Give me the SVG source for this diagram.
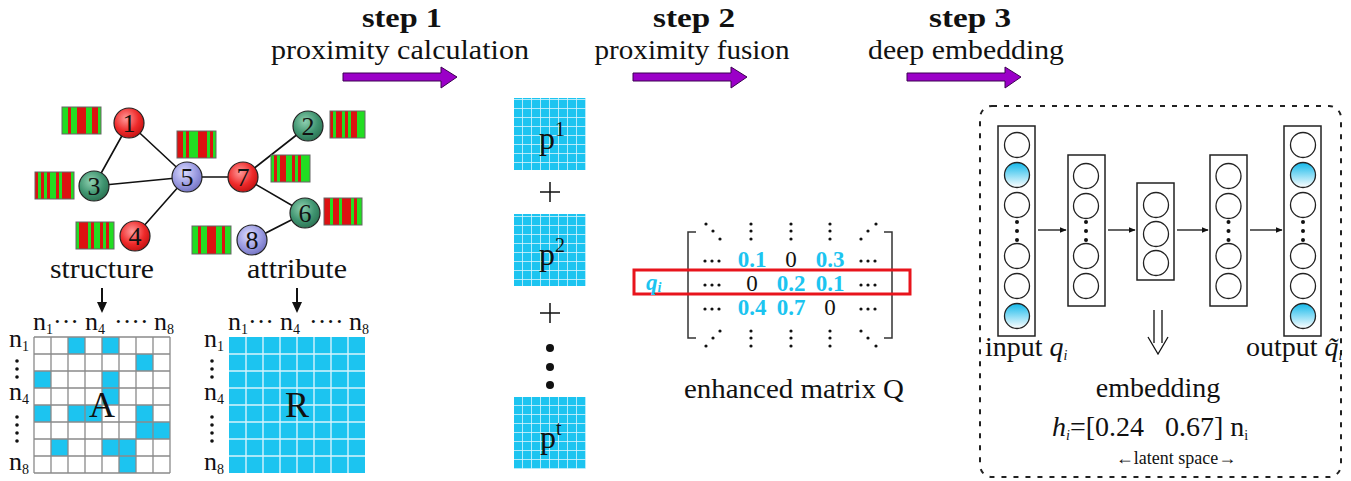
<svg xmlns="http://www.w3.org/2000/svg" width="1351" height="481" viewBox="0 0 1351 481">
<style>
text{font-family:"Liberation Serif","Times New Roman",serif;fill:#111}
.st{font-size:28px;font-weight:bold}
.sub{font-size:27px}
.big{font-size:28px}
.nn{font-size:26px}
.num{font-size:26px}
.bv{font-size:23px;font-weight:bold;fill:#1cc4f0}
.bk{font-size:23px}
.edge{stroke:#111;stroke-width:1.6;fill:none}
.bar{fill:#22dd22}
.red{fill:#dd1111}
.bd{fill:none;stroke:#666;stroke-width:1}
.step{fill:#9b00c8;stroke:#3c0052;stroke-width:1}
.lay{fill:#fff;stroke:#222;stroke-width:1.5}
.neu{fill:#fff;stroke:#222;stroke-width:1.3}
.neub{fill:url(#gb);stroke:#222;stroke-width:1.3}
.ar{stroke:#111;stroke-width:1.3;fill:none}
.dot{fill:#111}
</style>
<defs>
<radialGradient id="gr" cx="0.4" cy="0.35" r="0.7"><stop offset="0" stop-color="#ff9a9a"/><stop offset="0.6" stop-color="#ee2a2a"/><stop offset="1" stop-color="#c01010"/></radialGradient>
<radialGradient id="gg" cx="0.4" cy="0.35" r="0.7"><stop offset="0" stop-color="#8fd0b0"/><stop offset="0.6" stop-color="#3f9470"/><stop offset="1" stop-color="#2a7050"/></radialGradient>
<radialGradient id="gp" cx="0.4" cy="0.35" r="0.7"><stop offset="0" stop-color="#dcdcff"/><stop offset="0.6" stop-color="#9a9ae0"/><stop offset="1" stop-color="#7070c0"/></radialGradient>
<linearGradient id="gb" x1="0" y1="0" x2="0" y2="1"><stop offset="0" stop-color="#12b8ea"/><stop offset="1" stop-color="#ffffff"/></linearGradient>
<marker id="ah" viewBox="0 0 10 10" refX="9" refY="5" markerWidth="7" markerHeight="7" orient="auto" markerUnits="userSpaceOnUse"><path d="M0,1 L10,5 L0,9 z" fill="#111"/></marker>
<pattern id="pg" x="0" y="0" width="9" height="9" patternUnits="userSpaceOnUse"><rect width="9" height="9" fill="#1cc4f0"/><path d="M0,0.4 H9 M0.4,0 V9" stroke="#d6f3fc" stroke-width="0.9"/></pattern>
</defs>

<!-- header -->
<g id="step1">
<text class="st" x="402" y="27" text-anchor="middle" textLength="80" lengthAdjust="spacingAndGlyphs">step 1</text>
<text class="sub" x="400" y="59" text-anchor="middle" textLength="258" lengthAdjust="spacingAndGlyphs">proximity calculation</text>
<path class="step" d="M343,73 H441 V67 L457,77 L441,88 V81 H343 Z"/>
</g>
<g id="step2">
<text class="st" x="694" y="27" text-anchor="middle" textLength="82" lengthAdjust="spacingAndGlyphs">step 2</text>
<text class="sub" x="692" y="59" text-anchor="middle" textLength="195" lengthAdjust="spacingAndGlyphs">proximity fusion</text>
<path class="step" d="M633,73 H731 V67 L747,77 L731,88 V81 H633 Z"/>
</g>
<g id="step3">
<text class="st" x="970" y="27" text-anchor="middle" textLength="82" lengthAdjust="spacingAndGlyphs">step 3</text>
<text class="sub" x="966" y="59" text-anchor="middle" textLength="196" lengthAdjust="spacingAndGlyphs">deep embedding</text>
<path class="step" d="M907,73 H1005 V67 L1021,77 L1005,88 V81 H907 Z"/>
</g>

<!-- connectors -->
<g id="connectors">
<path class="edge" d="M129,123 L94,186 M129,123 L187,177 M94,186 L187,177 M187,177 L135,236 M187,177 L243,177 M243,177 L308,126 M243,177 L305,213 M305,213 L252,240"/>
<line class="ar" x1="1038" y1="230" x2="1066" y2="230" marker-end="url(#ah)"/>
<line class="ar" x1="1108" y1="230" x2="1135" y2="230" marker-end="url(#ah)"/>
<line class="ar" x1="1177" y1="230" x2="1208" y2="230" marker-end="url(#ah)"/>
<line class="ar" x1="1250" y1="230" x2="1282" y2="230" marker-end="url(#ah)"/>
<path d="M102,288 V306" stroke="#111" stroke-width="2"/><path d="M97,302 L102,313 L107,302 Z" fill="#111"/>
<path d="M297,288 V306" stroke="#111" stroke-width="2"/><path d="M292,302 L297,313 L302,302 Z" fill="#111"/>
</g>

<!-- barcodes -->
<g id="bars">
<g transform="translate(62,107)"><rect class="bar" width="39" height="27"/><rect class="red" x="6" width="3" height="27"/><rect class="red" x="15" width="9" height="27"/><rect class="red" x="30" width="6" height="27"/><rect class="bd" width="39" height="27"/></g>
<g transform="translate(330,111)"><rect class="bar" width="35" height="27"/><rect class="red" x="0" width="3" height="27"/><rect class="red" x="6" width="6" height="27"/><rect class="red" x="15" width="3" height="27"/><rect class="red" x="21" width="6" height="27"/><rect class="bd" width="35" height="27"/></g>
<g transform="translate(177,131)"><rect class="bar" width="39" height="27"/><rect class="red" x="0" width="6" height="27"/><rect class="red" x="9" width="3" height="27"/><rect class="red" x="21" width="9" height="27"/><rect class="red" x="33" width="3" height="27"/><rect class="bd" width="39" height="27"/></g>
<g transform="translate(35,172)"><rect class="bar" width="39" height="27"/><rect class="red" x="0" width="3" height="27"/><rect class="red" x="6" width="3" height="27"/><rect class="red" x="12" width="3" height="27"/><rect class="red" x="21" width="3" height="27"/><rect class="red" x="27" width="9" height="27"/><rect class="bd" width="39" height="27"/></g>
<g transform="translate(271,155)"><rect class="bar" width="39" height="27"/><rect class="red" x="3" width="3" height="27"/><rect class="red" x="9" width="6" height="27"/><rect class="red" x="21" width="3" height="27"/><rect class="red" x="27" width="3" height="27"/><rect class="bd" width="39" height="27"/></g>
<g transform="translate(324,198)"><rect class="bar" width="38" height="27"/><rect class="red" x="0" width="6" height="27"/><rect class="red" x="9" width="6" height="27"/><rect class="red" x="18" width="9" height="27"/><rect class="red" x="30" width="3" height="27"/><rect class="bd" width="38" height="27"/></g>
<g transform="translate(76,222)"><rect class="bar" width="38" height="27"/><rect class="red" x="3" width="9" height="27"/><rect class="red" x="15" width="3" height="27"/><rect class="red" x="24" width="3" height="27"/><rect class="red" x="30" width="3" height="27"/><rect class="bd" width="38" height="27"/></g>
<g transform="translate(192,226)"><rect class="bar" width="39" height="28"/><rect class="red" x="6" width="3" height="28"/><rect class="red" x="15" width="9" height="28"/><rect class="red" x="30" width="3" height="28"/><rect class="bd" width="39" height="28"/></g>
</g>

<!-- nodes -->
<g id="node1"><circle cx="129" cy="123" r="15" fill="url(#gr)" stroke="#222" stroke-width="1.2"/><text class="num" x="129" y="132" text-anchor="middle">1</text></g>
<g id="node2"><circle cx="308" cy="126" r="15" fill="url(#gg)" stroke="#222" stroke-width="1.2"/><text class="num" x="308" y="135" text-anchor="middle">2</text></g>
<g id="node3"><circle cx="94" cy="186" r="15" fill="url(#gg)" stroke="#222" stroke-width="1.2"/><text class="num" x="94" y="195" text-anchor="middle">3</text></g>
<g id="node4"><circle cx="135" cy="236" r="15" fill="url(#gr)" stroke="#222" stroke-width="1.2"/><text class="num" x="135" y="245" text-anchor="middle">4</text></g>
<g id="node5"><circle cx="187" cy="177" r="15" fill="url(#gp)" stroke="#222" stroke-width="1.2"/><text class="num" x="187" y="186" text-anchor="middle">5</text></g>
<g id="node6"><circle cx="305" cy="213" r="15" fill="url(#gg)" stroke="#222" stroke-width="1.2"/><text class="num" x="305" y="222" text-anchor="middle">6</text></g>
<g id="node7"><circle cx="243" cy="177" r="15" fill="url(#gr)" stroke="#222" stroke-width="1.2"/><text class="num" x="243" y="186" text-anchor="middle">7</text></g>
<g id="node8"><circle cx="252" cy="240" r="15" fill="url(#gp)" stroke="#222" stroke-width="1.2"/><text class="num" x="252" y="249" text-anchor="middle">8</text></g>

<!-- structure matrix A -->
<g id="matrixA">
<text class="big" x="102" y="278" text-anchor="middle" textLength="104" lengthAdjust="spacingAndGlyphs">structure</text>
<rect x="34" y="337" width="136" height="136" fill="#fff"/>
<g fill="#1cc4f0">
<rect x="68" y="337" width="17" height="17"/><rect x="102" y="337" width="17" height="17"/>
<rect x="136" y="354" width="17" height="17"/>
<rect x="34" y="371" width="17" height="17"/><rect x="102" y="371" width="17" height="17"/>
<rect x="102" y="388" width="17" height="17"/>
<rect x="34" y="405" width="17" height="17"/><rect x="68" y="405" width="17" height="17"/><rect x="85" y="405" width="17" height="17"/><rect x="136" y="405" width="17" height="17"/>
<rect x="136" y="422" width="17" height="17"/><rect x="153" y="422" width="17" height="17"/>
<rect x="51" y="439" width="17" height="17"/><rect x="102" y="439" width="17" height="17"/><rect x="119" y="439" width="17" height="17"/>
<rect x="119" y="456" width="17" height="17"/>
</g>
<path d="M34,337 V473 M51,337 V473 M68,337 V473 M85,337 V473 M102,337 V473 M119,337 V473 M136,337 V473 M153,337 V473 M170,337 V473 M34,337 H170 M34,354 H170 M34,371 H170 M34,388 H170 M34,405 H170 M34,422 H170 M34,439 H170 M34,456 H170 M34,473 H170" stroke="#8a8a8a" stroke-width="1.3" fill="none"/>
<text x="102" y="417" text-anchor="middle" style="font-size:36px">A</text>
<text class="nn" x="33" y="330">n<tspan font-size="14" dy="4">1</tspan><tspan dy="-4">···</tspan></text>
<text class="nn" x="85" y="330">n<tspan font-size="14" dy="4">4</tspan></text>
<text class="nn" x="114" y="330">····</text>
<text class="nn" x="154" y="330">n<tspan font-size="14" dy="4">8</tspan></text>
<text class="nn" x="9" y="347">n<tspan font-size="14" dy="4">1</tspan></text>
<text class="nn" x="9" y="400">n<tspan font-size="14" dy="4">4</tspan></text>
<text class="nn" x="9" y="470">n<tspan font-size="14" dy="4">8</tspan></text>
<g class="dot"><circle cx="17" cy="361" r="1.8"/><circle cx="17" cy="369" r="1.8"/><circle cx="17" cy="377" r="1.8"/><circle cx="17" cy="417" r="1.8"/><circle cx="17" cy="425" r="1.8"/><circle cx="17" cy="433" r="1.8"/><circle cx="17" cy="441" r="1.8"/></g>
</g>

<!-- attribute matrix R -->
<g id="matrixR">
<text class="big" x="297" y="278" text-anchor="middle" textLength="100" lengthAdjust="spacingAndGlyphs">attribute</text>
<rect x="229" y="337" width="136" height="136" fill="#1cc4f0"/>
<path d="M246,337 V473 M263,337 V473 M280,337 V473 M297,337 V473 M314,337 V473 M331,337 V473 M348,337 V473 M229,354 H365 M229,371 H365 M229,388 H365 M229,405 H365 M229,422 H365 M229,439 H365 M229,456 H365" stroke="#d6f3fc" stroke-width="1.4" fill="none"/>
<text x="297" y="417" text-anchor="middle" style="font-size:36px">R</text>
<text class="nn" x="228" y="330">n<tspan font-size="14" dy="4">1</tspan><tspan dy="-4">···</tspan></text>
<text class="nn" x="280" y="330">n<tspan font-size="14" dy="4">4</tspan></text>
<text class="nn" x="309" y="330">····</text>
<text class="nn" x="349" y="330">n<tspan font-size="14" dy="4">8</tspan></text>
<text class="nn" x="204" y="347">n<tspan font-size="14" dy="4">1</tspan></text>
<text class="nn" x="204" y="400">n<tspan font-size="14" dy="4">4</tspan></text>
<text class="nn" x="204" y="470">n<tspan font-size="14" dy="4">8</tspan></text>
<g class="dot"><circle cx="212" cy="361" r="1.8"/><circle cx="212" cy="369" r="1.8"/><circle cx="212" cy="377" r="1.8"/><circle cx="212" cy="417" r="1.8"/><circle cx="212" cy="425" r="1.8"/><circle cx="212" cy="433" r="1.8"/><circle cx="212" cy="441" r="1.8"/></g>
</g>

<!-- proximity matrices -->
<g id="p1"><rect x="514" y="98" width="72" height="72" fill="url(#pg)"/><text x="539" y="149" style="font-size:32px">p<tspan font-size="20" dy="-13">1</tspan></text></g>
<g id="plus1"><path d="M540,192 H560 M550,182 V202" stroke="#111" stroke-width="1.5"/></g>
<g id="p2"><rect x="514" y="214" width="72" height="72" fill="url(#pg)"/><text x="539" y="265" style="font-size:32px">p<tspan font-size="20" dy="-13">2</tspan></text></g>
<g id="plus2"><path d="M540,313 H560 M550,303 V323" stroke="#111" stroke-width="1.5"/></g>
<g id="vdots" class="dot"><circle cx="550" cy="348" r="4"/><circle cx="550" cy="367" r="4"/><circle cx="550" cy="385" r="4"/></g>
<g id="pt"><rect x="514" y="397" width="72" height="72" fill="url(#pg)"/><text x="540" y="448" style="font-size:32px">p<tspan font-size="20" dy="-13">t</tspan></text></g>

<!-- enhanced matrix Q -->
<g id="matrixQ">
<path d="M696,232 H688 V338 H696 M884,232 H892 V338 H884" stroke="#333" stroke-width="1.5" fill="none"/>
<g class="dot">
<circle cx="706" cy="224" r="1.6"/><circle cx="713" cy="231" r="1.6"/><circle cx="720" cy="239" r="1.6"/>
<circle cx="751" cy="224" r="1.6"/><circle cx="751" cy="231" r="1.6"/><circle cx="751" cy="239" r="1.6"/>
<circle cx="791" cy="224" r="1.6"/><circle cx="791" cy="231" r="1.6"/><circle cx="791" cy="239" r="1.6"/>
<circle cx="830" cy="224" r="1.6"/><circle cx="830" cy="231" r="1.6"/><circle cx="830" cy="239" r="1.6"/>
<circle cx="876" cy="224" r="1.6"/><circle cx="868" cy="231" r="1.6"/><circle cx="861" cy="239" r="1.6"/>
<circle cx="720" cy="331" r="1.6"/><circle cx="713" cy="338" r="1.6"/><circle cx="706" cy="346" r="1.6"/>
<circle cx="751" cy="331" r="1.6"/><circle cx="751" cy="338" r="1.6"/><circle cx="751" cy="346" r="1.6"/>
<circle cx="791" cy="331" r="1.6"/><circle cx="791" cy="338" r="1.6"/><circle cx="791" cy="346" r="1.6"/>
<circle cx="830" cy="331" r="1.6"/><circle cx="830" cy="338" r="1.6"/><circle cx="830" cy="346" r="1.6"/>
<circle cx="861" cy="331" r="1.6"/><circle cx="868" cy="338" r="1.6"/><circle cx="876" cy="346" r="1.6"/>
<circle cx="705" cy="261" r="1.6"/><circle cx="712" cy="261" r="1.6"/><circle cx="719" cy="261" r="1.6"/>
<circle cx="861" cy="261" r="1.6"/><circle cx="868" cy="261" r="1.6"/><circle cx="875" cy="261" r="1.6"/>
<circle cx="705" cy="285" r="1.6"/><circle cx="712" cy="285" r="1.6"/><circle cx="719" cy="285" r="1.6"/>
<circle cx="861" cy="285" r="1.6"/><circle cx="868" cy="285" r="1.6"/><circle cx="875" cy="285" r="1.6"/>
<circle cx="705" cy="309" r="1.6"/><circle cx="712" cy="309" r="1.6"/><circle cx="719" cy="309" r="1.6"/>
<circle cx="861" cy="309" r="1.6"/><circle cx="868" cy="309" r="1.6"/><circle cx="875" cy="309" r="1.6"/>
</g>
<text class="bv" x="752" y="267" text-anchor="middle">0.1</text>
<text class="bk" x="791" y="267" text-anchor="middle">0</text>
<text class="bv" x="830" y="267" text-anchor="middle">0.3</text>
<text class="bk" x="752" y="291" text-anchor="middle">0</text>
<text class="bv" x="791" y="291" text-anchor="middle">0.2</text>
<text class="bv" x="830" y="291" text-anchor="middle">0.1</text>
<text class="bv" x="752" y="315" text-anchor="middle">0.4</text>
<text class="bv" x="791" y="315" text-anchor="middle">0.7</text>
<text class="bk" x="830" y="315" text-anchor="middle">0</text>
<rect x="634" y="270" width="276" height="24" fill="none" stroke="#e8141c" stroke-width="3"/>
<text x="646" y="290" style="font-size:23px;font-weight:bold;font-style:italic;fill:#1cc4f0">q<tspan font-size="14" dy="2">i</tspan></text>
<text class="big" x="794" y="398" text-anchor="middle" textLength="220" lengthAdjust="spacingAndGlyphs">enhanced matrix Q</text>
</g>

<!-- autoencoder -->
<g id="autoencoder">
<rect x="980" y="106" width="361" height="371" rx="12" fill="none" stroke="#222" stroke-width="2" stroke-dasharray="5 7"/>
<g id="layer1">
<rect class="lay" x="998" y="126" width="37" height="210"/>
<circle class="neu" cx="1017" cy="145" r="12.5"/><circle class="neub" cx="1017" cy="175" r="12.5"/><circle class="neu" cx="1017" cy="205" r="12.5"/>
<circle class="neu" cx="1017" cy="256" r="12.5"/><circle class="neu" cx="1017" cy="286" r="12.5"/><circle class="neub" cx="1017" cy="316" r="12.5"/>
<g class="dot"><circle cx="1017" cy="222" r="2"/><circle cx="1017" cy="231" r="2"/><circle cx="1017" cy="240" r="2"/></g>
</g>
<g id="layer2">
<rect class="lay" x="1068" y="155" width="37" height="151"/>
<circle class="neu" cx="1086" cy="176" r="12.5"/><circle class="neu" cx="1086" cy="206" r="12.5"/><circle class="neu" cx="1086" cy="256" r="12.5"/><circle class="neu" cx="1086" cy="286" r="12.5"/>
<g class="dot"><circle cx="1086" cy="222" r="2"/><circle cx="1086" cy="231" r="2"/><circle cx="1086" cy="240" r="2"/></g>
</g>
<g id="layer3">
<rect class="lay" x="1137" y="183" width="37" height="97"/>
<circle class="neu" cx="1156" cy="205" r="12.5"/><circle class="neu" cx="1156" cy="234" r="12.5"/><circle class="neu" cx="1156" cy="263" r="12.5"/>
</g>
<g id="layer4">
<rect class="lay" x="1210" y="155" width="37" height="151"/>
<circle class="neu" cx="1228.5" cy="176" r="12.5"/><circle class="neu" cx="1228.5" cy="206" r="12.5"/><circle class="neu" cx="1228.5" cy="256" r="12.5"/><circle class="neu" cx="1228.5" cy="286" r="12.5"/>
<g class="dot"><circle cx="1228.5" cy="222" r="2"/><circle cx="1228.5" cy="231" r="2"/><circle cx="1228.5" cy="240" r="2"/></g>
</g>
<g id="layer5">
<rect class="lay" x="1284" y="126" width="37" height="210"/>
<circle class="neu" cx="1303" cy="145" r="12.5"/><circle class="neub" cx="1303" cy="175" r="12.5"/><circle class="neu" cx="1303" cy="205" r="12.5"/>
<circle class="neu" cx="1303" cy="256" r="12.5"/><circle class="neu" cx="1303" cy="286" r="12.5"/><circle class="neub" cx="1303" cy="316" r="12.5"/>
<g class="dot"><circle cx="1303" cy="222" r="2"/><circle cx="1303" cy="231" r="2"/><circle cx="1303" cy="240" r="2"/></g>
</g>
<path d="M1154,310 V343 M1162,310 V343 M1148,337 L1158,354 L1168,337" stroke="#111" stroke-width="1.3" fill="none"/>
<text class="big" x="985" y="356">input <tspan font-style="italic">q</tspan><tspan font-size="14" font-style="italic" dy="4">i</tspan></text>
<text class="big" x="1246" y="356">output <tspan font-style="italic">q̃</tspan><tspan font-size="14" font-style="italic" dy="4">i</tspan></text>
<text class="big" x="1158" y="397" text-anchor="middle">embedding</text>
<text x="1052" y="436" style="font-size:28px;white-space:pre" xml:space="preserve"><tspan font-style="italic">h</tspan><tspan font-size="14" font-style="italic" dy="4">i</tspan><tspan dy="-4">=[0.24   0.67] n</tspan><tspan font-size="14" dy="4">i</tspan></text>
<text x="1176" y="464" text-anchor="middle" style="font-size:18px">←latent space→</text>
</g>
</svg>
